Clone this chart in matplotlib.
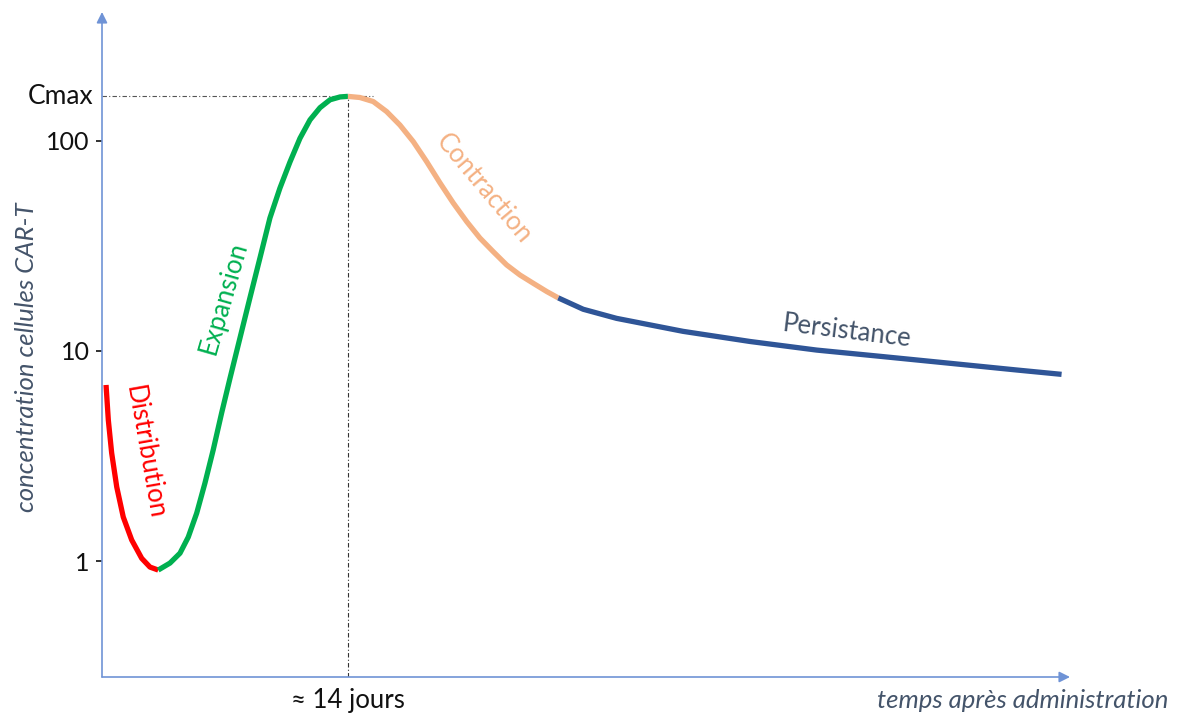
import matplotlib.pyplot as plt

plt.rcParams['font.family'] = ['Lato', 'DejaVu Sans']

# phases of the CAR-T kinetics curve (days, concentration)
dist_days = [0.23, 0.36, 0.55, 0.84, 1.21, 1.69, 2.26, 2.73, 3.20]
dist_conc = [6.89, 4.69, 3.27, 2.25, 1.62, 1.26, 1.03, 0.936, 0.906]

exp_days = [3.20, 3.87, 4.44, 4.91, 5.39, 5.86, 6.33, 6.81, 7.29, 7.85, 8.42, 8.99,
            9.56, 10.13, 10.70, 11.27, 11.84, 12.41, 12.98, 13.55, 14.0]
exp_conc = [0.906, 0.978, 1.09, 1.30, 1.69, 2.35, 3.38, 5.07, 7.44, 11.5, 17.9, 27.7,
            43.0, 59.7, 79.4, 103, 126, 144, 157, 162, 163]

contr_days = [14.0, 14.68, 15.44, 16.20, 16.96, 17.72, 18.48, 19.24, 19.99, 20.76,
              21.51, 22.27, 23.03, 23.79, 24.55, 25.31, 25.97]
contr_conc = [163, 161, 154, 138, 119, 99.2, 79.7, 63.1, 50.7, 41.3,
              34.5, 29.7, 25.7, 23.0, 21.0, 19.2, 17.9]

pers_days = [25.97, 27.39, 29.29, 33.08, 36.88, 40.68, 44.47, 48.26, 52.06, 54.62]
pers_conc = [17.9, 15.8, 14.3, 12.4, 11.1, 10.1, 9.40, 8.74, 8.12, 7.74]

cmax = 163
t_peak = 14.0
ytick_vals = [1, 10, 100]
ytick_labels = ['1', '10', '100']

fig = plt.figure(figsize=(11.95, 7.15), dpi=100)
ax = fig.add_axes([102 / 1195, 38 / 715, 968 / 1195, 665 / 715])
ax.set_yscale('log')
ax.set_xlim(0, 55.1)
ax.set_ylim(0.2805, 411)

lw = 3.8
ax.plot(dist_days, dist_conc, color='#FF0000', lw=lw, solid_capstyle='butt', solid_joinstyle='round', zorder=3)
ax.plot(exp_days, exp_conc, color='#00B050', lw=lw, solid_capstyle='butt', solid_joinstyle='round', zorder=3)
ax.plot(contr_days, contr_conc, color='#F4B183', lw=lw, solid_capstyle='butt', solid_joinstyle='round', zorder=3)
ax.plot(pers_days, pers_conc, color='#2F5597', lw=lw, solid_capstyle='butt', solid_joinstyle='round', zorder=3)

# reference lines for Cmax and peak time
ax.plot([0, 15.4], [cmax, cmax], color='#555555', lw=0.8, ls=(0, (4, 2, 1, 2)), zorder=2)
ax.plot([t_peak, t_peak], [0.2805, cmax], color='#333333', lw=0.8, ls=(0, (4, 2, 1, 2)), zorder=2)

for s in ax.spines.values():
    s.set_visible(False)

ax.set_xticks([])
ax.set_yticks(ytick_vals)
ax.set_yticklabels(ytick_labels)
ax.minorticks_off()
ax.tick_params(axis='y', direction='out', length=4, width=1.3, color='#222222',
               labelsize=18, pad=5, labelcolor='#111111')

# axes drawn as arrows
ax.annotate('', xy=(1, 0), xytext=(0, 0), xycoords='axes fraction',
            arrowprops=dict(arrowstyle='-|>', color='#6F93D6', lw=1.2,
                            mutation_scale=16, shrinkA=0, shrinkB=0), annotation_clip=False)
ax.annotate('', xy=(0, 1), xytext=(0, 0), xycoords='axes fraction',
            arrowprops=dict(arrowstyle='-|>', color='#6F93D6', lw=1.2,
                            mutation_scale=16, shrinkA=0, shrinkB=0), annotation_clip=False)

ax.text(-0.009, cmax, 'Cmax', transform=ax.get_yaxis_transform(), ha='right', va='center',
        fontsize=19, color='#111111')
ax.text(t_peak, -0.036, '\u2248 14 jours', transform=ax.get_xaxis_transform(), ha='center', va='center',
        fontsize=18.5, color='#111111')
fig.text(1168 / 1195, 1 - 700 / 715, 'temps après administration', ha='right', va='center',
         fontsize=18.5, style='italic', color='#44546A')
fig.text(27 / 1195, 1 - 357 / 715, 'concentration cellules CAR-T', ha='center', va='center',
         rotation=90, fontsize=18.5, style='italic', color='#44546A')

# phase labels
ax.text(2.45, 3.3, 'Distribution', color='#FF0000', fontsize=18.5, rotation=-80,
        ha='center', va='center', rotation_mode='anchor')
ax.text(6.94, 17.9, 'Expansion', color='#00B050', fontsize=18.5, rotation=74,
        ha='center', va='center', rotation_mode='anchor')
ax.text(21.7, 59, 'Contraction', color='#F4B183', fontsize=18.5, rotation=-50,
        ha='center', va='center', rotation_mode='anchor')
ax.text(42.4, 12.4, 'Persistance', color='#44546A', fontsize=18.5, rotation=-7,
        ha='center', va='center', rotation_mode='anchor')

fig.savefig('out.png', dpi=100)
